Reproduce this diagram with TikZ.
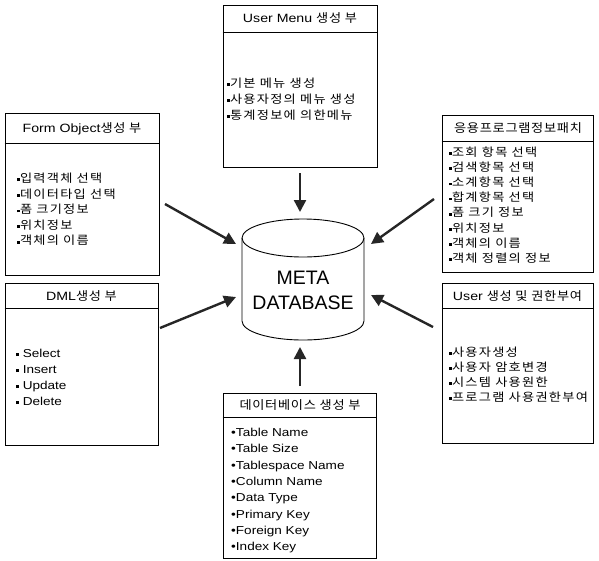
\documentclass[tikz,border=0pt]{standalone}
\usepackage{fontspec}
\setmainfont{Liberation Sans}
\newfontfamily\lat{Liberation Sans}[FakeStretch=1.18]
\newfontfamily\kr{Noto Sans CJK KR}[FakeStretch=1.15,LetterSpace=11]
\newfontfamily\krh{Noto Sans CJK KR}[FakeStretch=1.1,LetterSpace=6]
\usetikzlibrary{arrows.meta}
\newcommand\mybul{\rule[0.22ex]{2.8pt}{2.8pt}}
\begin{document}
\begin{tikzpicture}[x=1pt,y=-1pt,
  box/.style={draw, line width=0.9pt, inner sep=0pt},
  hd/.style={font=\lat\fontsize{12}{14}\selectfont, inner sep=0pt},
  item/.style={font=\lat\fontsize{11.5}{14}\selectfont, anchor=base west, inner sep=0pt},
  kitem/.style={item, font=\kr\fontsize{11.5}{14}\selectfont},
  arr/.style={line width=2.4pt, black!85, -{Triangle[length=12pt,width=12pt]}}]
\useasboundingbox (0,0) rectangle (599,560);

% ---- boxes
\node[box, minimum width=154pt, minimum height=162pt] (um) at (300,86) {};
\draw[line width=0.9pt] (um.west |- 0,32) -- (um.east |- 0,32);
\node[hd] (umh) at (300,18.5) {User Menu {\krh 생성 부}};
\foreach \t [count=\i] in {기본 메뉴 생성, 사용자정의 메뉴 생성, 통계정보에 의한메뉴}
  \node[kitem] (um\i) at (227,87.5+16*\i-16) {\mybul\t};

\node[box, minimum width=154pt, minimum height=162pt] (fo) at (82,194) {};
\draw[line width=0.9pt] (fo.west |- 0,143) -- (fo.east |- 0,143);
\node[hd] (foh) at (82,128.5) {Form Object{\krh 생성 부}};
\foreach \t [count=\i] in {입력객체 선택, 데이터타입 선택, 폼 크기정보, 위치정보, 객체의 이름}
  \node[kitem] (fo\i) at (17,182.5+15.6*\i-15.6) {\mybul\t};

\node[box, minimum width=151pt, minimum height=157pt] (ap) at (517.5,193.5) {};
\draw[line width=0.9pt] (ap.west |- 0,141) -- (ap.east |- 0,141);
\node[hd, font=\krh\fontsize{12}{14}\selectfont] (aph) at (518,128.5) {응용프로그램정보패치};
\foreach \t [count=\i] in {조회 항목 선택, 검색항목 선택, 소계항목 선택, 합계항목 선택, 폼 크기 정보, 위치정보, 객체의 이름, 객체 정렬의 정보}
  \node[kitem] (ap\i) at (449,156.5+15.1*\i-15.1) {\mybul\t};

\node[box, minimum width=153pt, minimum height=162pt] (dm) at (81.5,364) {};
\draw[line width=0.9pt] (dm.west |- 0,308) -- (dm.east |- 0,308);
\node[hd] (dmh) at (81.5,296) {DML{\krh 생성 부}};
\foreach \t [count=\i] in {Select, Insert, Update, Delete}
  \node[item] (dm\i) at (16,357.5+16*\i-16) {\mybul\ \t};

\node[box, minimum width=151pt, minimum height=160pt] (us) at (517.5,363) {};
\draw[line width=0.9pt] (us.west |- 0,308) -- (us.east |- 0,308);
\node[hd] (ush) at (517.5,296) {User {\krh 생성 및 권한부여}};
\foreach \t [count=\i] in {사용자생성, 사용자 암호변경, 시스템 사용원한, 프로그램 사용권한부여}
  \node[kitem] (us\i) at (449,356.5+15*\i-15) {\mybul\t};

\node[box, minimum width=153pt, minimum height=165pt] (dbb) at (299.5,475.5) {};
\draw[line width=0.9pt] (dbb.west |- 0,417) -- (dbb.east |- 0,417);
\node[hd, font=\krh\fontsize{12}{14}\selectfont] (dbh) at (300,405.5) {데이터베이스 생성 부};
\foreach \t [count=\i] in {Table Name, Table Size, Tablespace Name, Column Name, Data Type, Primary Key, Foreign Key, Index Key}
  \node[item] (db\i) at (231,436.5+16.3*\i-16.3) {•\t};

% ---- cylinder
\draw[line width=0.9pt] (303,238) ellipse [x radius=61, y radius=19];
\draw[line width=0.9pt] (242,238) -- (242,321) arc[start angle=180, end angle=0, x radius=61, y radius=19] -- (364,238);
\node[align=center, font=\fontsize{19.5}{25}\selectfont, inner sep=0pt] (meta) at (303,290) {META\\DATABASE};

% ---- connectors
\coordinate (a1) at (300,173); \coordinate (b1) at (300,212);
\coordinate (a2) at (300,386); \coordinate (b2) at (300,347);
\coordinate (a3) at (165,204); \coordinate (b3) at (236,244);
\coordinate (a4) at (434,199); \coordinate (b4) at (371,244);
\coordinate (a5) at (160,328); \coordinate (b5) at (236,297);
\coordinate (a6) at (433,327); \coordinate (b6) at (371,295);
\foreach \i in {1,...,6} \draw[arr] (a\i) -- (b\i);
\end{tikzpicture}
\end{document}
